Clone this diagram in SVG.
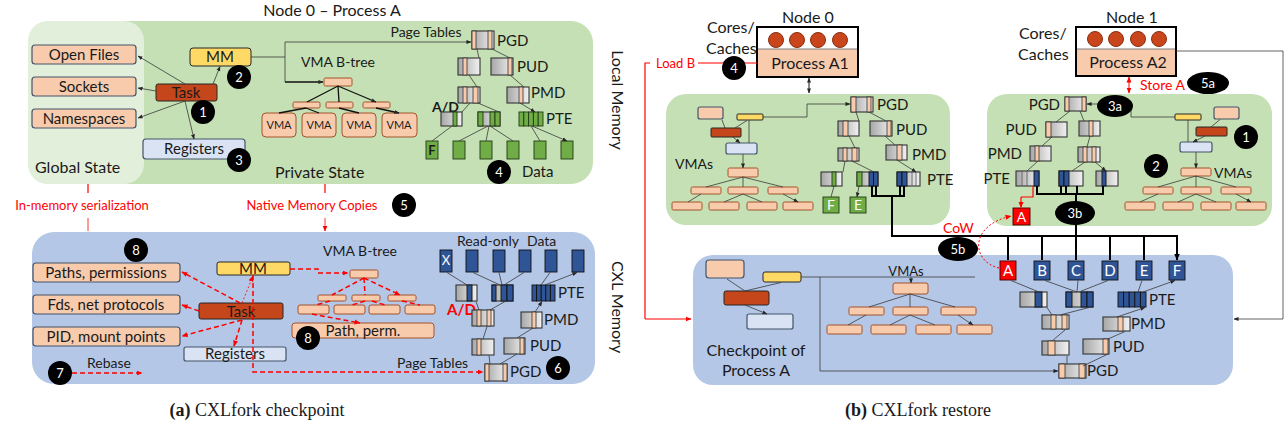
<svg xmlns="http://www.w3.org/2000/svg" width="1285" height="431" viewBox="0 0 1285 431">
<defs>
<linearGradient id="g" x1="0" y1="0" x2="1" y2="0"><stop offset="0" stop-color="#a6a6a6"/><stop offset="1" stop-color="#f2f2f2"/></linearGradient>
<marker id="a" viewBox="0 0 6 6" refX="5.5" refY="3" markerWidth="5" markerHeight="5" orient="auto-start-reverse" markerUnits="userSpaceOnUse"><path d="M0,0.6 L6,3 L0,5.4z" fill="#262626"/></marker>
<marker id="k" viewBox="0 0 6 6" refX="5.5" refY="3" markerWidth="7" markerHeight="7" orient="auto-start-reverse" markerUnits="userSpaceOnUse"><path d="M0,0.5 L6,3 L0,5.5z" fill="#000"/></marker>
<marker id="r" viewBox="0 0 6 6" refX="5.5" refY="3" markerWidth="6" markerHeight="6" orient="auto-start-reverse" markerUnits="userSpaceOnUse"><path d="M0,0.5 L6,3 L0,5.5z" fill="#f00"/></marker>
</defs>
<style>
text{font-family:Lato,"Open Sans","Liberation Sans",sans-serif;fill:#1a1a1a}
.c{text-anchor:middle}
.e{text-anchor:end}
.f11{font-size:11px}.f13{font-size:13px}.f14{font-size:14px}.f15{font-size:15px}.f16{font-size:16px}
.red{fill:#f00}
.w{fill:#fff}
.gb{fill:#f8cbad;stroke:#44546a;stroke-width:1.2}
.mm{fill:#ffd966;stroke:#262626;stroke-width:1}
.tk{fill:#c5461a;stroke:#262626;stroke-width:1}
.rg{fill:#dae3f3;stroke:#44546a;stroke-width:1.2}
.bt{fill:#f8cbad;stroke:#a5522a;stroke-width:1}
.pt{fill:url(#g);stroke:#333;stroke-width:1.1}
.o{fill:#f8cbad;stroke:#333;stroke-width:0.8}
.gn{fill:#70ad47;stroke:#1f3a12;stroke-width:0.9}
.bl{fill:#2f5597;stroke:#111;stroke-width:0.9}
.ln{fill:none;stroke:#3a3a3a;stroke-width:0.8}
.ar{fill:none;stroke:#3a3a3a;stroke-width:0.8;marker-end:url(#a)}
.ak{fill:none;stroke:#111;stroke-width:1.3;marker-end:url(#a)}
.rd{fill:none;stroke:#f00;stroke-width:1.5;stroke-dasharray:5 3;marker-end:url(#r)}
.rl{fill:none;stroke:#f00;stroke-width:1.2}
.bus{fill:none;stroke:#000;stroke-width:2}
.bk{fill:none;stroke:#000;stroke-width:2;marker-end:url(#k)}
.bd circle,.bd ellipse{fill:#000}
.bd text{fill:#fff;font-size:13px;text-anchor:middle}
.cir{fill:#c9461d;stroke:#8b2c0e;stroke-width:1}
</style>

<!-- ============ (a) checkpoint: local memory ============ -->
<g id="local-memory">
<rect x="28" y="21" width="565" height="163" rx="22" fill="#c5e0b4"/>
<rect x="28" y="21" width="116" height="163" rx="20" fill="#e2efda"/>
<text x="332" y="16" class="c f16">Node 0 – Process A</text>
<text x="35" y="173" class="f16">Global State</text>
<text x="275" y="178" class="f16">Private State</text>
<text transform="translate(612,100) rotate(90)" class="c f16">Local Memory</text>
</g>

<g id="global-files"><rect x="32" y="45" width="104" height="19" rx="3" class="gb"/><text x="84" y="59.5" class="c f15">Open Files</text></g>
<g id="global-sockets"><rect x="32" y="77" width="104" height="19" rx="3" class="gb"/><text x="84" y="91.5" class="c f15">Sockets</text></g>
<g id="global-ns"><rect x="32" y="109" width="104" height="19" rx="3" class="gb"/><text x="84" y="123.5" class="c f15">Namespaces</text></g>
<g id="a-task"><rect x="156" y="84" width="61" height="17" rx="2" class="tk"/><text x="186" y="98" class="c f15">Task</text></g>
<g id="a-mm"><rect x="190" y="48" width="61" height="18" rx="3" class="mm"/><text x="220" y="62" class="c f15">MM</text></g>
<g id="a-regs"><rect x="143" y="139" width="102" height="20" rx="3" class="rg"/><text x="194" y="154" class="c f15">Registers</text></g>

<g id="a-vma-tree">
<text x="338" y="67" class="c f14">VMA B-tree</text>
<rect x="324" y="78" width="28" height="8" rx="1.5" class="bt"/>
<rect x="293" y="102" width="27" height="6" rx="1.5" class="bt"/>
<rect x="326" y="102" width="27" height="6" rx="1.5" class="bt"/>
<rect x="363" y="102" width="27" height="6" rx="1.5" class="bt"/>
<rect x="262" y="113" width="34" height="24" rx="4" class="bt"/><text x="279" y="129" class="c f11">VMA</text>
<rect x="302" y="113" width="34" height="24" rx="4" class="bt"/><text x="319" y="129" class="c f11">VMA</text>
<rect x="342" y="113" width="34" height="24" rx="4" class="bt"/><text x="359" y="129" class="c f11">VMA</text>
<rect x="382" y="113" width="35" height="24" rx="4" class="bt"/><text x="399" y="129" class="c f11">VMA</text>
</g>

<g id="a-local-pagetables">
<text x="426" y="37" class="c f14">Page Tables</text>
<rect x="472" y="31" width="22" height="18" class="pt"/><rect x="472" y="31" width="4" height="18" class="o"/><rect x="488" y="31" width="4" height="18" class="o"/>
<text x="497" y="46" class="f15">PGD</text>
<rect x="458" y="58" width="22" height="17" class="pt"/><rect x="463" y="58" width="4" height="17" class="o"/>
<rect x="491" y="58" width="22" height="17" class="pt"/><rect x="508" y="58" width="4" height="17" class="o"/>
<text x="517" y="72" class="f15">PUD</text>
<rect x="458" y="87" width="22" height="16" class="pt"/><rect x="463" y="87" width="4" height="16" class="o"/><rect x="473" y="87" width="5" height="16" class="o"/>
<rect x="507" y="87" width="22" height="16" class="pt"/><rect x="519" y="87" width="4" height="16" class="o"/>
<text x="531" y="98" class="f15">PMD</text>
<text x="432" y="112" class="f14" font-weight="bold" fill="#262626">A/D</text>
<rect x="441" y="112" width="21" height="14" class="pt"/><rect x="453" y="112" width="4" height="14" class="gn"/>
<rect x="478" y="112" width="22" height="14" class="pt"/><rect x="478" y="112" width="5" height="14" class="gn"/><rect x="490" y="112" width="5" height="14" class="gn"/><rect x="495" y="112" width="5" height="14" class="gn"/>
<rect x="519" y="112" width="4.8" height="14" class="gn"/><rect x="523.8" y="112" width="4.8" height="14" class="gn"/><rect x="528.6" y="112" width="4.8" height="14" class="gn"/><rect x="533.4" y="112" width="4.8" height="14" class="gn"/><rect x="538.2" y="112" width="4.8" height="14" class="gn"/>
<text x="546" y="124" class="f15">PTE</text>
<rect x="426" y="141" width="12" height="18" class="gn"/><text x="432" y="155" class="c f13" font-weight="bold">F</text>
<rect x="453" y="141" width="12" height="18" class="gn"/>
<rect x="480" y="141" width="12" height="18" class="gn"/>
<rect x="507" y="141" width="12" height="18" class="gn"/>
<rect x="534" y="141" width="12" height="18" class="gn"/>
<rect x="561" y="141" width="12" height="18" class="gn"/>
<text x="522" y="177" class="f15">Data</text>
</g>

<!-- ============ (a) checkpoint: CXL memory ============ -->
<g id="cxl-memory-a">
<rect x="32" y="232" width="563" height="152" rx="22" fill="#b4c7e7"/>
<text transform="translate(612,307) rotate(90)" class="c f16">CXL Memory</text>
<text x="82" y="210" class="c f13 red">In-memory serialization</text>
<text x="312" y="210" class="c f13 red">Native Memory Copies</text>
<text x="87" y="368" class="f14">Rebase</text>
</g>

<g id="ser-paths"><rect x="33" y="263" width="147" height="19" rx="3" class="gb"/><text x="106" y="277.5" class="c f15">Paths, permissions</text></g>
<g id="ser-fds"><rect x="33" y="295" width="147" height="19" rx="3" class="gb"/><text x="106" y="309.5" class="c f15">Fds, net protocols</text></g>
<g id="ser-pid"><rect x="33" y="327" width="147" height="19" rx="3" class="gb"/><text x="106" y="341.5" class="c f15">PID, mount points</text></g>
<g id="c-mm"><rect x="217" y="262" width="73" height="13" rx="2" class="mm"/><text x="253" y="274" class="c f15">MM</text></g>
<g id="c-task"><rect x="199" y="303" width="84" height="16" rx="2" class="tk"/><text x="241" y="316.5" class="c f15">Task</text></g>
<g id="c-regs"><rect x="184" y="347" width="102" height="14" rx="2" class="rg"/><text x="235" y="359" class="c f15">Registers</text></g>

<g id="c-vma-tree">
<text x="360" y="256" class="c f14">VMA B-tree</text>
<rect x="350" y="270" width="28" height="8" rx="1.5" class="bt"/>
<rect x="318" y="295" width="28" height="6" rx="1.5" class="bt"/>
<rect x="352" y="295" width="28" height="6" rx="1.5" class="bt"/>
<rect x="388" y="295" width="28" height="6" rx="1.5" class="bt"/>
<rect x="298" y="305" width="31" height="9" rx="2" class="bt"/>
<rect x="334" y="305" width="31" height="9" rx="2" class="bt"/>
<rect x="369" y="305" width="31" height="9" rx="2" class="bt"/>
<rect x="405" y="305" width="30" height="9" rx="2" class="bt"/>
</g>
<g id="c-pathperm"><rect x="292" y="323" width="142" height="15" rx="3" class="bt"/><text x="363" y="336" class="c f15">Path, perm.</text></g>

<g id="c-pagetables">
<text x="397" y="368" class="f14">Page Tables</text>
<text x="457" y="246" class="f14">Read-only</text><text x="527" y="246" class="f14">Data</text>
<rect x="440" y="250" width="12" height="22" class="bl"/><text x="446" y="265" class="c f13 w">X</text>
<rect x="466" y="250" width="12" height="22" class="bl"/>
<rect x="493" y="250" width="12" height="22" class="bl"/>
<rect x="519" y="250" width="12" height="22" class="bl"/>
<rect x="545" y="250" width="12" height="22" class="bl"/>
<rect x="572" y="250" width="12" height="22" class="bl"/>
<rect x="456" y="285" width="21" height="16" class="pt"/><rect x="467" y="285" width="5" height="16" class="bl"/>
<rect x="492" y="285" width="21" height="16" class="pt"/><rect x="492" y="285" width="4" height="16" class="bl"/><rect x="501" y="285" width="6" height="16" class="bl"/><rect x="507" y="285" width="6" height="16" class="bl"/>
<rect x="532" y="285" width="4.6" height="16" class="bl"/><rect x="536.6" y="285" width="4.6" height="16" class="bl"/><rect x="541.2" y="285" width="4.6" height="16" class="bl"/><rect x="545.8" y="285" width="4.6" height="16" class="bl"/><rect x="550.4" y="285" width="4.6" height="16" class="bl"/>
<text x="558" y="298" class="f15">PTE</text>
<text x="447" y="315" class="f15 red" font-weight="bold">A/D</text>
<rect x="472" y="310" width="22" height="16" class="pt"/><rect x="477" y="310" width="4" height="16" class="o"/><rect x="487" y="310" width="4" height="16" class="o"/>
<rect x="521" y="312" width="21" height="16" class="pt"/><rect x="532" y="312" width="4" height="16" class="o"/>
<text x="544" y="325" class="f15">PMD</text>
<rect x="472" y="339" width="22" height="16" class="pt"/><rect x="477" y="339" width="4" height="16" class="o"/>
<rect x="504" y="338" width="21" height="16" class="pt"/><rect x="520" y="338" width="4" height="16" class="o"/>
<text x="530" y="351" class="f15">PUD</text>
<rect x="485" y="364" width="22" height="17" class="pt"/><rect x="485" y="364" width="4" height="17" class="o"/><rect x="503" y="364" width="4" height="17" class="o"/>
<text x="510" y="377" class="f15">PGD</text>
</g>

<!-- ============ (b) restore ============ -->
<g id="node0">
<text x="808" y="23" class="c f16">Node 0</text>
<text x="707" y="33" class="f16">Cores/</text><text x="706" y="54" class="f16">Caches</text>
<rect x="757" y="27" width="101" height="50" fill="#fff"/>
<rect x="757" y="49" width="101" height="28" fill="#f8cbad"/>
<line x1="757" y1="49" x2="858" y2="49" stroke="#7f7f7f" stroke-width="1"/>
<circle cx="776" cy="40" r="7.5" class="cir"/><circle cx="797" cy="40" r="7.5" class="cir"/><circle cx="818" cy="40" r="7.5" class="cir"/><circle cx="840" cy="40" r="7.5" class="cir"/>
<rect x="757" y="27" width="101" height="50" fill="none" stroke="#000" stroke-width="2"/>
<text x="810" y="69" class="c f16">Process A1</text>
</g>

<g id="node1">
<text x="1132" y="23" class="c f16">Node 1</text>
<text x="1019" y="39" class="f16">Cores/</text><text x="1018" y="60" class="f16">Caches</text>
<rect x="1076" y="27" width="100" height="49" fill="#fff"/>
<rect x="1076" y="49" width="100" height="27" fill="#f8cbad"/>
<line x1="1076" y1="49" x2="1176" y2="49" stroke="#7f7f7f" stroke-width="1"/>
<circle cx="1095" cy="39" r="7.5" class="cir"/><circle cx="1116" cy="39" r="7.5" class="cir"/><circle cx="1138" cy="39" r="7.5" class="cir"/><circle cx="1159" cy="39" r="7.5" class="cir"/>
<rect x="1076" y="27" width="100" height="49" fill="none" stroke="#000" stroke-width="2"/>
<text x="1128" y="68" class="c f16">Process A2</text>
<text x="1140" y="90" class="f14 red">Store A</text>
</g>

<g id="node0-memory">
<rect x="666" y="94" width="284" height="131" rx="20" fill="#c5e0b4"/>
<rect x="698" y="107" width="25" height="12" rx="2" class="gb"/>
<rect x="737" y="114" width="26" height="6" rx="1" class="mm"/>
<rect x="711" y="128" width="30" height="9" rx="1" class="tk"/>
<rect x="726" y="143" width="31" height="11" rx="2" class="rg"/>
<text x="675" y="169" class="f14">VMAs</text>
<rect x="728" y="168" width="30" height="9" rx="1.5" class="bt"/>
<rect x="691" y="187" width="30" height="7" rx="1.5" class="bt"/><rect x="728" y="187" width="30" height="7" rx="1.5" class="bt"/><rect x="768" y="187" width="30" height="7" rx="1.5" class="bt"/>
<rect x="672" y="202" width="30" height="8" rx="1.5" class="bt"/><rect x="709" y="202" width="30" height="8" rx="1.5" class="bt"/><rect x="747" y="202" width="30" height="8" rx="1.5" class="bt"/><rect x="783" y="202" width="30" height="8" rx="1.5" class="bt"/>
<rect x="851" y="97" width="22" height="15" class="pt"/><rect x="851" y="97" width="5" height="15" class="o"/><rect x="867" y="97" width="4" height="15" class="o"/>
<text x="877" y="110" class="f15">PGD</text>
<rect x="838" y="121" width="21" height="15" class="pt"/><rect x="843" y="121" width="5" height="15" class="o"/>
<rect x="870" y="121" width="22" height="15" class="pt"/><rect x="887" y="121" width="4" height="15" class="o"/>
<text x="896" y="135" class="f15">PUD</text>
<rect x="838" y="148" width="21" height="13" class="pt"/><rect x="843" y="148" width="4" height="13" class="o"/><rect x="852" y="148" width="5" height="13" class="o"/>
<rect x="886" y="145" width="21" height="15" class="pt"/><rect x="897" y="145" width="5" height="15" class="o"/>
<text x="912" y="160" class="f15">PMD</text>
<rect x="821" y="172" width="21" height="14" class="pt"/><rect x="832" y="172" width="4" height="14" class="gn"/>
<rect x="857" y="172" width="21" height="14" class="pt"/><rect x="857" y="172" width="5" height="14" class="gn"/><rect x="869" y="172" width="4.5" height="14" class="bl"/><rect x="873.5" y="172" width="4.5" height="14" class="bl"/>
<rect x="897" y="172" width="23" height="14" class="pt"/><rect x="897" y="172" width="5" height="14" class="bl"/><rect x="902" y="172" width="5" height="14" class="bl"/><line x1="912" y1="172" x2="912" y2="186" stroke="#555" stroke-width="0.8"/><line x1="916" y1="172" x2="916" y2="186" stroke="#555" stroke-width="0.8"/>
<text x="927" y="185" class="f15">PTE</text>
<rect x="823" y="197" width="16" height="16" class="gn"/><text x="831" y="210" class="c f14 w">F</text>
<rect x="850" y="197" width="16" height="16" class="gn"/><text x="858" y="210" class="c f14 w">E</text>
</g>

<g id="node1-memory">
<rect x="987" y="94" width="285" height="132" rx="20" fill="#c5e0b4"/>
<rect x="1065" y="97" width="21" height="14" class="pt"/><rect x="1065" y="97" width="4" height="14" class="o"/><rect x="1082" y="97" width="4" height="14" class="o"/>
<text x="1060" y="110" class="e f15">PGD</text>
<rect x="1046" y="122" width="21" height="15" class="pt"/><rect x="1046" y="122" width="5" height="15" class="o"/>
<text x="1037" y="135" class="e f15">PUD</text>
<rect x="1079" y="121" width="21" height="15" class="pt"/><rect x="1089" y="121" width="4" height="15" class="o"/>
<rect x="1030" y="146" width="21" height="15" class="pt"/><rect x="1035" y="146" width="4" height="15" class="o"/>
<text x="1022" y="159" class="e f15">PMD</text>
<rect x="1078" y="147" width="22" height="15" class="pt"/><rect x="1083" y="147" width="4" height="15" class="o"/><rect x="1092" y="147" width="4" height="15" class="o"/>
<rect x="1016" y="171" width="23" height="15" class="pt"/><line x1="1022" y1="171" x2="1022" y2="186" stroke="#555" stroke-width="0.8"/><line x1="1027" y1="171" x2="1027" y2="186" stroke="#555" stroke-width="0.8"/><rect x="1034" y="171" width="5" height="15" class="bl"/>
<rect x="1059" y="171" width="24" height="15" class="pt"/><rect x="1059" y="171" width="5" height="15" class="bl"/><rect x="1064" y="171" width="5" height="15" class="bl"/>
<rect x="1096" y="171" width="22" height="15" class="pt"/><rect x="1102" y="171" width="4" height="15" class="bl"/>
<text x="1010" y="184" class="e f15">PTE</text>
<rect x="1175" y="114" width="26" height="6" rx="1" class="mm"/>
<rect x="1214" y="107" width="25" height="12" rx="2" class="gb"/>
<rect x="1196" y="127" width="31" height="9" rx="1" class="tk"/>
<rect x="1180" y="142" width="32" height="10" rx="2" class="rg"/>
<rect x="1181" y="168" width="30" height="8" rx="1.5" class="bt"/>
<text x="1214" y="178" class="f14">VMAs</text>
<rect x="1143" y="187" width="30" height="7" rx="1.5" class="bt"/><rect x="1181" y="187" width="30" height="7" rx="1.5" class="bt"/><rect x="1221" y="187" width="30" height="7" rx="1.5" class="bt"/>
<rect x="1125" y="202" width="30" height="8" rx="1.5" class="bt"/><rect x="1163" y="202" width="30" height="8" rx="1.5" class="bt"/><rect x="1201" y="202" width="30" height="8" rx="1.5" class="bt"/><rect x="1236" y="202" width="30" height="8" rx="1.5" class="bt"/>
<rect x="1013" y="208" width="17" height="17" fill="#f00" stroke="#400" stroke-width="0.9"/><text x="1021.5" y="222" class="c f14 w">A</text>
</g>

<g id="checkpoint-cxl">
<rect x="693" y="255" width="540" height="130" rx="20" fill="#b4c7e7"/>
<rect x="706" y="260" width="38" height="18" rx="3" class="gb"/>
<rect x="763" y="272" width="38" height="10" rx="2" class="mm"/>
<rect x="724" y="291" width="45" height="14" rx="2" class="tk"/>
<rect x="747" y="314" width="46" height="15" rx="2" class="rg"/>
<text x="756" y="356" class="c f16">Checkpoint of</text>
<text x="756" y="376" class="c f16">Process A</text>
<text x="906" y="276" class="c f13">VMAs</text>
<rect x="893" y="283" width="35" height="11" rx="2" class="bt"/>
<rect x="849" y="307" width="35" height="8" rx="1.5" class="bt"/><rect x="893" y="307" width="35" height="8" rx="1.5" class="bt"/><rect x="941" y="307" width="35" height="8" rx="1.5" class="bt"/>
<rect x="827" y="325" width="35" height="9" rx="1.5" class="bt"/><rect x="871" y="325" width="35" height="9" rx="1.5" class="bt"/><rect x="916" y="325" width="35" height="9" rx="1.5" class="bt"/><rect x="957" y="325" width="35" height="9" rx="1.5" class="bt"/>
<rect x="1000" y="261" width="16" height="19" fill="#f00" stroke="#400" stroke-width="0.9"/><text x="1008" y="276" class="c f15 w">A</text>
<rect x="1034" y="261" width="16" height="19" class="bl"/><text x="1042" y="276" class="c f15 w">B</text>
<rect x="1068" y="261" width="16" height="19" class="bl"/><text x="1076" y="276" class="c f15 w">C</text>
<rect x="1102" y="261" width="16" height="19" class="bl"/><text x="1110" y="276" class="c f15 w">D</text>
<rect x="1136" y="261" width="16" height="19" class="bl"/><text x="1144" y="276" class="c f15 w">E</text>
<rect x="1169" y="261" width="16" height="19" class="bl"/><text x="1177" y="276" class="c f15 w">F</text>
<rect x="1020" y="292" width="27" height="15" class="pt"/><rect x="1035" y="292" width="7" height="15" class="bl"/>
<rect x="1066" y="292" width="27" height="15" class="pt"/><rect x="1066" y="292" width="6" height="15" class="bl"/><rect x="1081" y="292" width="6" height="15" class="bl"/><rect x="1087" y="292" width="6" height="15" class="bl"/>
<rect x="1118" y="292" width="5.6" height="15" class="bl"/><rect x="1123.6" y="292" width="5.6" height="15" class="bl"/><rect x="1129.2" y="292" width="5.6" height="15" class="bl"/><rect x="1134.8" y="292" width="5.6" height="15" class="bl"/><rect x="1140.4" y="292" width="5.6" height="15" class="bl"/>
<text x="1149" y="305" class="f15">PTE</text>
<rect x="1042" y="315" width="27" height="14" class="pt"/><rect x="1051" y="315" width="5" height="14" class="o"/><rect x="1062" y="315" width="5" height="14" class="o"/>
<rect x="1103" y="317" width="27" height="14" class="pt"/><rect x="1118" y="317" width="5" height="14" class="o"/>
<text x="1131" y="329" class="f15">PMD</text>
<rect x="1042" y="341" width="27" height="14" class="pt"/><rect x="1048" y="341" width="7" height="14" class="o"/>
<rect x="1083" y="339" width="26" height="15" class="pt"/><rect x="1103" y="339" width="5" height="15" class="o"/>
<text x="1113" y="352" class="f15">PUD</text>
<rect x="1059" y="364" width="27" height="14" class="pt"/><rect x="1059" y="364" width="6" height="14" class="o"/><rect x="1079" y="364" width="6" height="14" class="o"/>
<text x="1087" y="376" class="f15">PGD</text>
</g>

<!-- ============ connectors ============ -->
<g id="connectors">
<!-- (a) local: task fan-out -->
<path class="ar" d="M185,84 L138,56"/>
<path class="ar" d="M156,91 L138,88"/>
<path class="ar" d="M185,101 L138,118"/>
<path class="ar" d="M185,101 L194,139"/>
<path class="ar" d="M213,84 L220,66.5"/>
<path class="ln" d="M251,57 H285 M285,42 V82"/>
<path class="ar" d="M285,42 H471"/>
<path class="ak" d="M285,82 H323"/>
<!-- (a) local: VMA tree -->
<path class="ak" d="M338,86 L307,102 M338,86 L339,102 M338,86 L376,102"/>
<path class="ak" d="M306,108 L279,113 M306,108 L319,113 M339,108 L359,113 M376,108 L399,113"/>
<!-- (a) local: page walk -->
<path class="ar" d="M477,49 L479,58 M492,49 L510,58 M469,75 L477,87 M510,75 L524,87 M470,103 L462,112 M478,103 L499,112 M520,103 L535,112"/>
<path class="ar" d="M452,126 L432,141 M488,126 L459,141 M489,126 L486,141 M490,126 L513,141 M531,126 L540,141 M532,126 L567,141"/>
<!-- (a) transfers into CXL -->
<path class="rl" d="M88,184 V193 M325,184 V193" stroke-width="0.8"/>
<path d="M88,218 V231 M325,218 V231" fill="none" stroke="#f00" stroke-width="0.8" marker-end="url(#r)"/>
<!-- (a) CXL: serialized state -->
<path class="rd" d="M240,303 L182,272"/>
<path class="rd" d="M199,311 L182,305"/>
<path class="rd" d="M242,320 L182,336"/>
<path class="rd" d="M242,320 L234,346"/>
<path d="M242,303 L253,276" fill="none" stroke="#f00" stroke-width="0.8" stroke-dasharray="2 2" marker-end="url(#r)"/>
<path class="rd" d="M290,269 H318 V273 H348"/>
<path class="rd" d="M253,275 V372 H483"/>
<path class="rd" d="M72,373 H142"/>
<path class="rd" d="M364,278 L332,295 M364,278 L365,295 M364,278 L400,295" stroke-width="1.2"/>
<path class="rd" d="M330,301 L316,305 M365,301 L352,305 M372,301 L385,305 M402,301 L420,305 M312,314 L360,323" stroke-width="1.2"/>
<!-- (a) CXL: page walk (upward) -->
<path class="ar" d="M490,364 L489,355.5 M500,364 L517,354 M483,339 L487,326.5 M517,338 L533,328 M479,310 L476,301.5 M490,310 L505,301.5 M535,312 L542,301.5"/>
<path class="ar" d="M467,285 L447,272.5 M500,285 L473,272.5 M502,285 L499,272.5 M504,285 L524,272.5 M541,285 L550,272.5 M545,285 L577,272.5"/>

<!-- (b) node 0 side -->
<path class="rl" d="M698,63 H757 M650,63 H645 V319"/>
<path d="M645,319 H691" fill="none" stroke="#f00" stroke-width="1.2" marker-end="url(#r)"/>
<path d="M809,78 V93" fill="none" stroke="#111" stroke-width="1" marker-start="url(#a)" marker-end="url(#a)"/>
<path class="ar" d="M725,128 L722,120 M735,128 L747,120.5 M733,137 L740,143"/>
<path class="ln" d="M749,120 V143"/>
<path class="ar" d="M763,117 H807 V104 H850"/>
<path class="ar" d="M743,154 V168"/>
<path class="ar" d="M743,177 L706,187 M743,177 L743,187 M743,177 L783,187 M701,194 L688,202 M743,194 L724,202 M743,194 L762,202 M783,194 L798,202"/>
<path class="ar" d="M856,112 L859,121 M869,112 L886,121 M849,136 L855,148 M885,136 L895,145 M845,161 L843,172 M852,161 L874,172 M897,160 L916,172"/>
<path class="ar" d="M834,186 L831,197 M859,186 L857,197"/>
<!-- (b) node 1 side -->
<path class="ln" d="M1176,51 H1283 V319" stroke="#222" stroke-width="1"/>
<path class="ar" d="M1283,319 H1234" stroke="#222" stroke-width="1"/>
<path d="M1129,77 V93" fill="none" stroke="#f00" stroke-width="1" marker-start="url(#r)" marker-end="url(#r)"/>
<path class="ln" d="M1175,117 H1131 V106"/>
<path class="ar" d="M1100,104 H1087"/>
<path class="ar" d="M1070,111 L1056,122 M1080,111 L1084,121 M1052,137 L1042,146 M1090,136 L1087,147 M1038,161 L1027,171 M1085,162 L1072,171 M1095,162 L1106,171"/>
<path class="ar" d="M1211,127 L1220,119.5 M1205,136 L1193,142"/>
<path class="ln" d="M1188,120 V142"/>
<path class="ar" d="M1196,152 V168"/>
<path class="ar" d="M1196,176 L1158,187 M1196,176 L1196,187 M1196,176 L1236,187 M1158,194 L1140,202 M1196,194 L1178,202 M1196,194 L1216,202 M1236,194 L1251,202"/>
<path class="rl" d="M1033,186 V197 H1021"/>
<path d="M1021,197 V207.5" fill="none" stroke="#f00" stroke-width="1.2" marker-end="url(#r)"/>
<!-- (b) shared read-only data -->
<path class="bus" d="M872,186 V196 M876,186 V196 M900,186 V196 M904,186 V196 M871,196 H905 M892,196 V236 H1177"/>
<path class="bus" d="M1037,186 V194 M1061,186 V194 M1066,186 V194 M1077,186 V194 M1103,186 V194 M1036,194 H1104 M1076,194 V236"/>
<path class="bk" d="M1008,236 V260 M1042,236 V260 M1076,236 V260 M1110,236 V260 M1144,236 V260 M1177,235 V260"/>
<path d="M999,268 C972,262 968,226 1011,216" fill="none" stroke="#f00" stroke-width="1" stroke-dasharray="2 2" marker-end="url(#r)"/>
<!-- (b) checkpoint in CXL -->
<path class="ar" d="M745,291 L727,279 M745,291 L781,282.5 M745,305 L767,314"/>
<path class="ln" d="M801,277 H975"/>
<path class="ar" d="M911,277 V283"/>
<path class="ar" d="M820,277 V371 H1058"/>
<path class="ar" d="M910,294 L869,307 M910,294 L910,307 M910,294 L955,307 M866,315 L848,325 M910,315 L890,325 M910,315 L935,325 M958,315 L973,325"/>
<path class="ar" d="M1067,364 L1067,356 M1083,366 L1107,354.5 M1052,341 L1065,330 M1108,339 L1125,331.5 M1052,315 L1047,307.5 M1060,315 L1089,307.5 M1117,317 L1145,307.5"/>
<path class="ar" d="M1039,292 L1011,280.5 M1077,292 L1045,280.5 M1077,292 L1078,280.5 M1079,292 L1108,280.5 M1138,292 L1142,280.5 M1143,292 L1175,280.5"/>
</g>

<!-- labels drawn over connectors -->
<g id="labels-b">
<text x="656" y="68" class="f13 red">Load B</text>
<text x="943" y="233" class="f14 red">CoW</text>
</g>

<g id="badges">
<g class="bd"><circle cx="203" cy="112" r="12"/><text x="203" y="116.5">1</text></g>
<g class="bd"><circle cx="239" cy="77" r="12"/><text x="239" y="81.5">2</text></g>
<g class="bd"><circle cx="239" cy="160" r="12"/><text x="239" y="164.5">3</text></g>
<g class="bd"><circle cx="499" cy="172" r="12"/><text x="499" y="176.5">4</text></g>
<g class="bd"><circle cx="404" cy="205" r="12"/><text x="404" y="209.5">5</text></g>
<g class="bd"><circle cx="558" cy="368" r="12"/><text x="558" y="372.5">6</text></g>
<g class="bd"><circle cx="60" cy="373" r="12"/><text x="60" y="377.5">7</text></g>
<g class="bd"><circle cx="136" cy="250" r="12"/><text x="136" y="254.5">8</text></g>
<g class="bd"><circle cx="308" cy="338" r="12"/><text x="308" y="342.5">8</text></g>
<g class="bd"><circle cx="734" cy="68" r="12"/><text x="734" y="72.5">4</text></g>
<g class="bd"><circle cx="1246" cy="137" r="12"/><text x="1246" y="141.5">1</text></g>
<g class="bd"><circle cx="1156" cy="166" r="12"/><text x="1156" y="170.5">2</text></g>
<g class="bd"><ellipse cx="1115" cy="106" rx="18" ry="11"/><text x="1115" y="110.5">3a</text></g>
<g class="bd"><ellipse cx="1075" cy="213" rx="20" ry="12"/><text x="1075" y="217.5">3b</text></g>
<g class="bd"><ellipse cx="1208" cy="83" rx="21" ry="11"/><text x="1208" y="87.5">5a</text></g>
<g class="bd"><ellipse cx="958" cy="249" rx="20" ry="12"/><text x="958" y="253.5">5b</text></g>
</g>

<g id="captions">
<text x="257" y="416" class="c" font-family="'Liberation Serif',serif" font-size="18" style="font-family:'Liberation Serif',serif"><tspan font-weight="bold">(a)</tspan> CXLfork checkpoint</text>
<text x="918" y="416" class="c" font-family="'Liberation Serif',serif" font-size="18" style="font-family:'Liberation Serif',serif"><tspan font-weight="bold">(b)</tspan> CXLfork restore</text>
</g>
</svg>
